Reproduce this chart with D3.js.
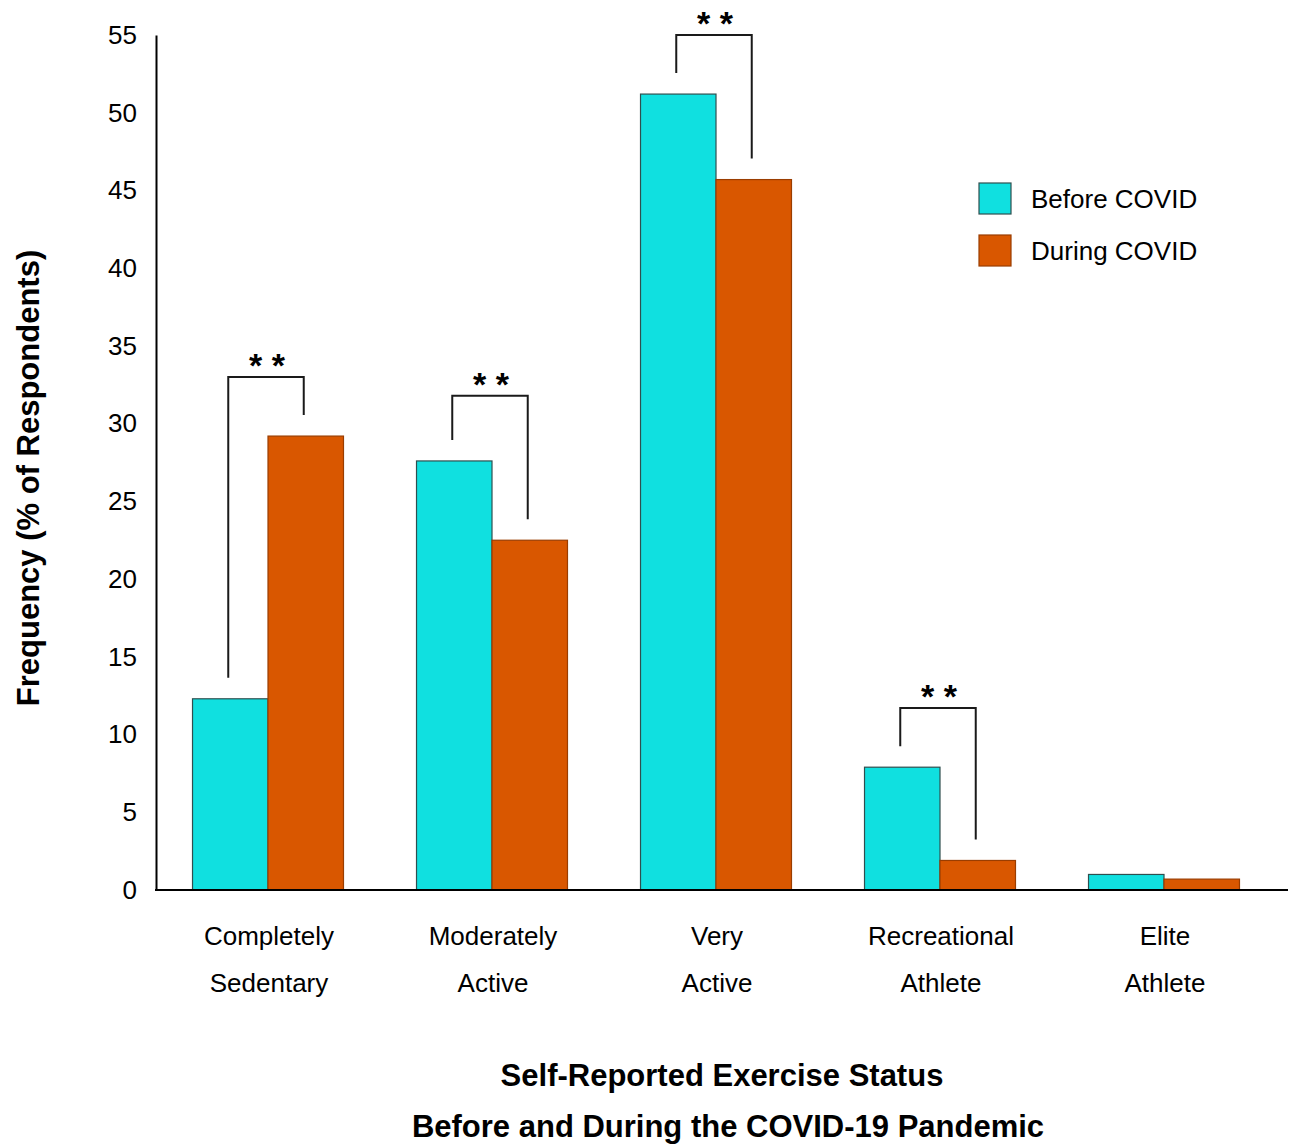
<!DOCTYPE html>
<html>
<head>
<meta charset="utf-8">
<script src="https://cdn.jsdelivr.net/npm/d3@7"></script>
<style>
  body { margin: 0; background: #fff; }
  svg { display: block; font-family: "Liberation Sans", Arial, sans-serif; }
</style>
</head>
<body>
<svg id="chart" width="1293" height="1145"></svg>
<script>
const categories = [["Completely", "Sedentary"], ["Moderately", "Active"], ["Very", "Active"], ["Recreational", "Athlete"], ["Elite", "Athlete"]];
const seriesNames = ["Before COVID", "During COVID"];
const beforeValues = [12.3, 27.6, 51.2, 7.9, 1.0];
const duringValues = [29.2, 22.5, 45.7, 1.9, 0.7];
const yTicks = [0, 5, 10, 15, 20, 25, 30, 35, 40, 45, 50, 55];
// significance brackets: category index and bracket level (data units)
const sigIndex = [0, 1, 2, 3];
const sigLevel = [33.0, 31.8, 55.0, 11.7];
const sigLabel = ["* *", "* *", "* *", "* *"];

const colors = ["#10E0E0", "#D95700"];
const strokes = ["#2f4f4f", "#9a3d00"];

const svg = d3.select("#chart");
const y = d3.scaleLinear().domain([0, 55]).range([890, 35]);
const x0 = d3.scaleBand().domain(d3.range(categories.length)).range([156, 1276]).paddingInner(0.326).paddingOuter(0.163);
const x1 = d3.scaleBand().domain([0, 1]).range([0, x0.bandwidth()]);

const data = categories.map((c, i) => ({ i, vals: [beforeValues[i], duringValues[i]] }));

// bars
const g = svg.append("g");
data.forEach(d => {
  d.vals.forEach((v, s) => {
    g.append("rect")
      .attr("x", x0(d.i) + x1(s))
      .attr("y", y(v))
      .attr("width", x1.bandwidth())
      .attr("height", y(0) - y(v))
      .attr("fill", colors[s])
      .attr("stroke", strokes[s])
      .attr("stroke-width", 1.2);
  });
});

// axes
const yAxis = d3.axisLeft(y).tickValues(yTicks).tickSize(0).tickPadding(19);
const ya = svg.append("g").attr("transform", "translate(156,0)").call(yAxis);
ya.select(".domain").attr("stroke", "#000").attr("stroke-width", 2);
ya.selectAll("text").attr("font-size", 26).attr("fill", "#000").attr("font-family", "Liberation Sans, Arial, sans-serif");

svg.append("line").attr("x1", 155).attr("x2", 1288).attr("y1", y(0)).attr("y2", y(0))
  .attr("stroke", "#000").attr("stroke-width", 2);

// x category labels
categories.forEach((c, i) => {
  const cx = x0(i) + x0.bandwidth() / 2 + 1;
  c.forEach((line, k) => {
    svg.append("text").attr("x", cx).attr("y", 945 + k * 47)
      .attr("text-anchor", "middle").attr("font-size", 26).attr("fill", "#000").text(line);
  });
});

// significance brackets
sigIndex.forEach((ci, k) => {
  const xa = x0(ci) + x1(0) + x1.bandwidth() / 2 - 2;
  const xb = x0(ci) + x1(1) + x1.bandwidth() / 2 - 2;
  const top = y(sigLevel[k]);
  const ya0 = y(beforeValues[ci]) - 21;
  const yb0 = y(duringValues[ci]) - 21;
  svg.append("path")
    .attr("d", `M${xa},${ya0} V${top} H${xb} V${yb0}`)
    .attr("fill", "none").attr("stroke", "#1a1a1a").attr("stroke-width", 2);
  svg.append("text").attr("x", (xa + xb) / 2 + 1).attr("y", top)
    .attr("text-anchor", "middle").attr("font-size", 34).attr("font-weight", "bold")
    .attr("fill", "#000").text(sigLabel[k]);
});

// legend
seriesNames.forEach((n, s) => {
  const ly = 183 + s * 52;
  svg.append("rect").attr("x", 979).attr("y", ly).attr("width", 32).attr("height", 31)
    .attr("fill", colors[s]).attr("stroke", strokes[s]).attr("stroke-width", 1.2);
  svg.append("text").attr("x", 1031).attr("y", ly + 25).attr("font-size", 26).attr("fill", "#000").text(n);
});

// axis titles
svg.append("text").attr("transform", "translate(39,478) rotate(-90)")
  .attr("text-anchor", "middle").attr("font-size", 31).attr("font-weight", "bold").attr("fill", "#000")
  .text("Frequency (% of Respondents)");
svg.append("text").attr("x", 722).attr("y", 1086).attr("text-anchor", "middle")
  .attr("font-size", 31).attr("font-weight", "bold").attr("fill", "#000").text("Self-Reported Exercise Status");
svg.append("text").attr("x", 728).attr("y", 1137).attr("text-anchor", "middle")
  .attr("font-size", 31).attr("font-weight", "bold").attr("fill", "#000").text("Before and During the COVID-19 Pandemic");
</script>
</body>
</html>
